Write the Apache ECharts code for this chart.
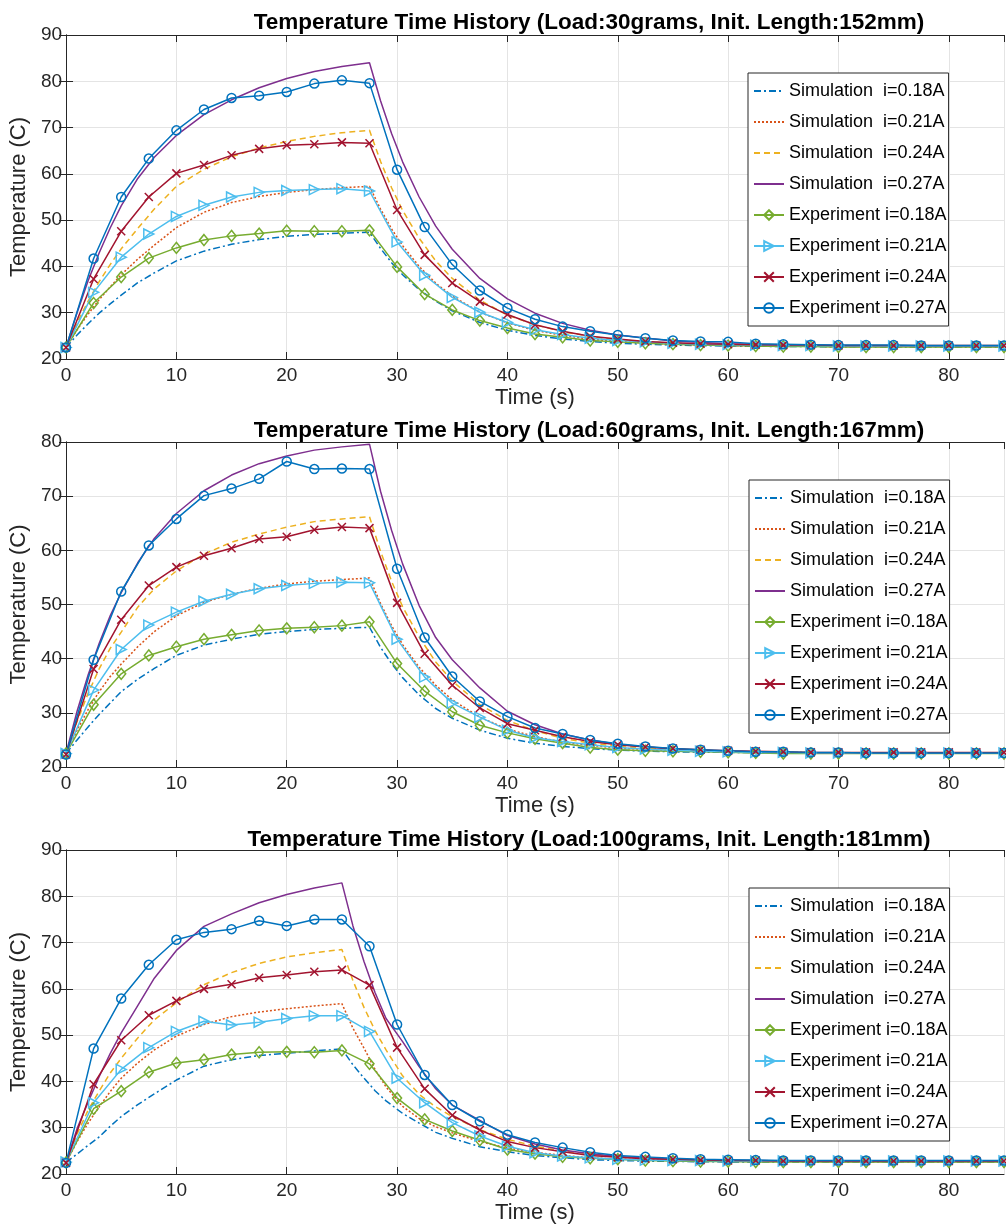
<!DOCTYPE html>
<html>
<head>
<meta charset="utf-8">
<title>Temperature Time History</title>
<script src="https://cdn.jsdelivr.net/npm/echarts@6/dist/echarts.min.js"></script>
<style>
  html, body { margin: 0; padding: 0; background: #fff; }
  #chart { width: 1006px; height: 1227px; }
</style>
</head>
<body>
<div id="chart"></div>
<script>
// experiment sampling times (every 2.5 s)
const expTime = [0, 2.5, 5, 7.5, 10, 12.5, 15, 17.5, 20, 22.5, 25, 27.5, 30, 32.5, 35, 37.5, 40, 42.5,
  45, 47.5, 50, 52.5, 55, 57.5, 60, 62.5, 65, 67.5, 70, 72.5, 75, 77.5, 80, 82.5, 85];
// simulation sampling times (heating ends at 27.5 s / 25 s)
const simTimeA = [0, 1, 2, 3, 4, 5, 6.5, 8, 10, 12.5, 15, 17.5, 20, 22.5, 25, 27.5, 28.5, 29.5, 30.5,
  32, 33.5, 35, 37.5, 40, 42.5, 45, 47.5, 50, 55, 60, 65, 70, 75, 80, 85];
const simTimeB = [0, 1, 2, 3, 4, 5, 6.5, 8, 10, 12.5, 15, 17.5, 20, 22.5, 25, 26, 27, 28, 29, 30.5,
  32, 33.5, 35, 37.5, 40, 42.5, 45, 47.5, 50, 55, 60, 65, 70, 75, 80, 85];

const seriesNames = [
  'Simulation  i=0.18A', 'Simulation  i=0.21A', 'Simulation  i=0.24A', 'Simulation  i=0.27A',
  'Experiment i=0.18A', 'Experiment i=0.21A', 'Experiment i=0.24A', 'Experiment i=0.27A'
];
const titles = [
  'Temperature Time History (Load:30grams, Init. Length:152mm)',
  'Temperature Time History (Load:60grams, Init. Length:167mm)',
  'Temperature Time History (Load:100grams, Init. Length:181mm)'
];

// ---- Load 30 g ----
const sim30_018 = [22.5, 25.2, 27.6, 29.9, 31.9, 33.8, 36.5, 38.6, 41.2, 43.3, 44.8, 45.8, 46.5, 46.9, 47.2, 47.4,
  43.9, 40.8, 38.2, 35.0, 32.5, 30.4, 27.9, 26.2, 25.1, 24.3, 23.8, 23.4, 23.0, 22.8, 22.7, 22.65, 22.6, 22.6, 22.6];
const sim30_021 = [22.5, 26.3, 29.7, 32.8, 35.6, 38.2, 41.6, 44.6, 48.4, 51.7, 53.8, 55.1, 56.0, 56.6, 57.0, 57.3,
  52.4, 48.1, 44.5, 40.0, 36.4, 33.6, 30.1, 27.8, 26.2, 25.1, 24.3, 23.8, 23.2, 22.9, 22.8, 22.7, 22.7, 22.7, 22.7];
const sim30_024 = [22.5, 27.8, 32.5, 36.7, 40.4, 43.8, 48.2, 52.4, 57.3, 61.0, 63.7, 65.6, 67.0, 68.1, 68.9, 69.4,
  62.7, 57.0, 52.1, 46.1, 41.2, 37.4, 32.7, 29.5, 27.4, 25.9, 24.9, 24.1, 23.4, 23.0, 22.8, 22.7, 22.7, 22.7, 22.7];
const sim30_027 = [22.5, 30.0, 36.9, 42.9, 48.3, 53.1, 59.0, 63.6, 68.3, 72.8, 76.0, 78.6, 80.6, 82.1, 83.2, 84.0,
  75.8, 68.7, 62.6, 55.0, 48.7, 43.7, 37.4, 33.0, 29.9, 27.7, 26.2, 25.2, 23.9, 23.3, 23.0, 22.85, 22.8, 22.75, 22.7];
const exp30_018 = [22.5, 32.1, 37.7, 41.8, 44.0, 45.7, 46.6, 47.1, 47.7, 47.6, 47.6, 47.8, 39.9, 34.0, 30.6, 28.3,
  26.7, 25.4, 24.7, 24.0, 23.7, 23.4, 23.2, 23.0, 22.9, 22.8, 22.7, 22.7, 22.6, 22.6, 22.6, 22.6, 22.6, 22.6, 22.6];
const exp30_021 = [22.5, 34.4, 42.0, 47.0, 50.8, 53.2, 55.0, 56.0, 56.4, 56.6, 56.8, 56.3, 45.3, 38.1, 33.3, 30.1,
  27.9, 26.3, 25.3, 24.5, 24.0, 23.7, 23.4, 23.2, 23.1, 23.0, 22.9, 22.9, 22.8, 22.8, 22.8, 22.8, 22.8, 22.8, 22.8];
const exp30_024 = [22.5, 37.3, 47.6, 55.0, 60.1, 61.9, 64.0, 65.4, 66.2, 66.4, 66.8, 66.6, 52.2, 42.5, 36.4, 32.4,
  29.6, 27.4, 26.0, 24.9, 24.3, 23.8, 23.5, 23.3, 23.2, 23.1, 23.0, 23.0, 22.9, 22.9, 22.9, 22.9, 22.9, 22.9, 22.9];
const exp30_027 = [22.5, 41.7, 55.0, 63.3, 69.4, 73.9, 76.4, 76.9, 77.7, 79.5, 80.2, 79.6, 60.9, 48.5, 40.4, 34.8,
  31.0, 28.6, 27.0, 26.0, 25.2, 24.5, 24.0, 23.8, 23.7, 23.3, 23.2, 23.1, 23.0, 23.0, 23.0, 22.9, 22.9, 22.9, 22.9];

// ---- Load 60 g ----
const sim60_018 = [22.5, 25.0, 27.4, 29.7, 31.8, 33.9, 36.2, 38.2, 40.6, 42.5, 43.6, 44.5, 45.0, 45.4, 45.6, 45.8,
  42.1, 39.1, 36.5, 33.3, 30.8, 29.0, 26.8, 25.3, 24.4, 23.8, 23.4, 23.1, 22.8, 22.7, 22.6, 22.6, 22.6, 22.6, 22.6];
const sim60_021 = [22.5, 26.8, 30.6, 33.9, 36.7, 39.0, 42.2, 45.0, 47.9, 50.4, 51.9, 53.0, 53.8, 54.3, 54.6, 54.9,
  50.2, 46.1, 42.6, 38.4, 35.1, 32.4, 29.2, 27.0, 25.6, 24.6, 24.0, 23.5, 23.0, 22.8, 22.7, 22.6, 22.6, 22.6, 22.6];
const sim60_024 = [22.5, 28.4, 33.6, 38.1, 41.9, 44.9, 49.5, 52.9, 56.2, 59.3, 61.5, 63.0, 64.3, 65.3, 65.8, 66.2,
  59.8, 54.3, 49.6, 44.0, 39.4, 35.9, 31.5, 28.6, 26.7, 25.3, 24.4, 23.8, 23.2, 22.9, 22.7, 22.6, 22.6, 22.6, 22.6];
const sim60_027 = [22.5, 30.3, 37.0, 42.8, 47.9, 52.2, 57.7, 62.2, 66.8, 71.0, 73.9, 76.0, 77.4, 78.5, 79.1, 79.6,
  70.9, 63.7, 57.5, 49.8, 43.9, 39.8, 34.6, 30.3, 27.8, 26.1, 25.0, 24.2, 23.3, 22.9, 22.7, 22.6, 22.6, 22.6, 22.6];
const exp60_018 = [22.5, 31.5, 37.2, 40.6, 42.2, 43.6, 44.4, 45.2, 45.6, 45.8, 46.1, 46.8, 39.1, 34.0, 30.2, 27.7,
  26.3, 25.2, 24.4, 23.6, 23.2, 23.0, 22.9, 22.8, 22.7, 22.6, 22.5, 22.5, 22.5, 22.5, 22.5, 22.5, 22.5, 22.5, 22.5];
const exp60_021 = [22.5, 34.2, 41.7, 46.2, 48.6, 50.6, 51.9, 52.9, 53.5, 53.9, 54.1, 54.0, 43.6, 36.6, 31.8, 29.2,
  26.8, 25.4, 24.7, 24.1, 23.6, 23.3, 23.1, 22.9, 22.8, 22.7, 22.7, 22.6, 22.6, 22.6, 22.6, 22.6, 22.6, 22.6, 22.6];
const exp60_024 = [22.3, 38.1, 47.2, 53.5, 56.9, 59.0, 60.4, 62.1, 62.5, 63.8, 64.3, 64.1, 50.3, 40.9, 35.1, 30.9,
  28.0, 26.8, 25.6, 24.7, 24.1, 23.7, 23.4, 23.2, 23.0, 22.9, 22.8, 22.7, 22.7, 22.7, 22.7, 22.7, 22.7, 22.7, 22.7];
const exp60_027 = [22.3, 39.8, 52.4, 60.9, 65.8, 70.1, 71.4, 73.2, 76.4, 75.0, 75.1, 75.0, 56.6, 43.9, 36.7, 32.1,
  29.3, 27.2, 26.1, 25.0, 24.3, 23.8, 23.4, 23.2, 23.0, 22.8, 22.8, 22.7, 22.7, 22.6, 22.6, 22.6, 22.6, 22.6, 22.6];

// ---- Load 100 g ----
const sim100_018 = [22.5, 24.3, 26.2, 28.0, 30.3, 32.4, 35.0, 37.3, 40.3, 43.3, 44.7, 45.6, 46.1, 46.6, 47.0,
  43.6, 40.7, 38.0, 35.8, 33.1, 31.0, 29.0, 27.7, 25.9, 24.8, 24.0, 23.5, 23.1, 22.9, 22.7, 22.6, 22.6, 22.6, 22.6, 22.6, 22.6];
const sim100_021 = [22.5, 27.0, 31.0, 34.5, 37.8, 40.7, 44.0, 46.8, 49.8, 52.3, 54.0, 55.0, 55.7, 56.3, 56.8,
  51.5, 47.2, 42.6, 38.8, 34.6, 32.0, 30.2, 28.9, 27.0, 25.6, 24.7, 24.0, 23.5, 23.2, 22.9, 22.8, 22.7, 22.7, 22.7, 22.7, 22.7];
const sim100_024 = [22.5, 28.6, 33.8, 37.9, 41.8, 45.0, 49.4, 53.3, 57.0, 60.9, 63.5, 65.5, 66.9, 67.8, 68.5,
  61.8, 56.0, 51.0, 46.8, 41.2, 37.2, 34.5, 32.4, 29.6, 27.5, 26.0, 25.0, 24.3, 23.8, 23.2, 22.9, 22.8, 22.7, 22.7, 22.7, 22.7];
const sim100_027 = [22.5, 29.8, 35.5, 41.0, 46.0, 50.5, 56.4, 62.3, 68.3, 73.5, 76.2, 78.6, 80.4, 81.8, 82.9,
  73.6, 65.9, 59.2, 53.6, 48.6, 43.2, 38.4, 34.9, 31.6, 28.3, 26.5, 25.2, 24.4, 23.8, 23.2, 22.9, 22.8, 22.7, 22.7, 22.7, 22.7];
const exp100_018 = [22.5, 34.1, 37.9, 42.0, 44.0, 44.7, 45.8, 46.3, 46.4, 46.3, 46.7, 43.8, 36.4, 31.8, 29.3, 27.3,
  25.3, 24.4, 23.7, 23.4, 23.2, 22.9, 22.8, 22.7, 22.7, 22.6, 22.6, 22.6, 22.6, 22.6, 22.6, 22.6, 22.6, 22.6, 22.6];
const exp100_021 = [22.6, 35.4, 42.6, 47.3, 50.8, 53.0, 52.2, 52.8, 53.6, 54.2, 54.2, 50.8, 40.7, 35.4, 31.1, 28.2,
  26.0, 24.6, 23.9, 23.5, 23.2, 23.0, 22.9, 22.9, 22.8, 22.8, 22.8, 22.8, 22.8, 22.8, 22.8, 22.8, 22.8, 22.8, 22.8];
const exp100_024 = [22.4, 39.4, 48.9, 54.3, 57.4, 60.0, 61.0, 62.4, 63.0, 63.7, 64.1, 60.8, 47.3, 38.4, 32.7, 29.5,
  27.0, 25.7, 24.8, 24.0, 23.6, 23.3, 23.2, 23.0, 22.9, 22.9, 22.8, 22.8, 22.8, 22.8, 22.8, 22.8, 22.8, 22.8, 22.8];
const exp100_027 = [22.4, 47.1, 57.9, 65.2, 70.6, 72.2, 72.9, 74.7, 73.6, 75.0, 75.0, 69.2, 52.3, 41.4, 34.9, 31.4,
  28.5, 26.8, 25.7, 24.7, 24.0, 23.7, 23.4, 23.2, 23.1, 23.0, 22.9, 22.9, 22.9, 22.9, 22.9, 22.9, 22.9, 22.9, 22.9];

// MATLAB default colour order
const colors = ['#0072BD', '#D95319', '#EDB120', '#7E2F8E', '#77AC30', '#4DBEEE', '#A2142F', '#0072BD'];
const simDash = [[7, 3, 2, 3], [2, 2], [6, 4], 'solid'];
const expSymbol = ['diamond', 'path://M0,0L10,5L0,10Z', 'path://M0,0L10,10M10,0L0,10', 'circle'];
const expSymbolSize = [[9, 11], 10, 8, 9];

const panels = [
  { sims: [sim30_018, sim30_021, sim30_024, sim30_027], simTime: simTimeA,
    exps: [exp30_018, exp30_021, exp30_024, exp30_027], ymax: 90,
    left: 60, top: 35, height: 324, titleTop: 6, legLeft: 748, legTop: 73 },
  { sims: [sim60_018, sim60_021, sim60_024, sim60_027], simTime: simTimeA,
    exps: [exp60_018, exp60_021, exp60_024, exp60_027], ymax: 80,
    left: 62, top: 442, height: 325, titleTop: 414, legLeft: 749, legTop: 480 },
  { sims: [sim100_018, sim100_021, sim100_024, sim100_027], simTime: simTimeB,
    exps: [exp100_018, exp100_021, exp100_024, exp100_027], ymax: 90,
    left: 62, top: 850, height: 324, titleTop: 823, legLeft: 749, legTop: 888 }
];

function zip (xs, ys) {
  return xs.map((x, k) => [x, ys[k]]);
}

const axisColor = '#262626';
const font = 'Liberation Sans, Arial, Helvetica, sans-serif';

let option = {
  animation: false,
  backgroundColor: '#fff',
  textStyle: { fontFamily: font },
  title: [], grid: [], xAxis: [], yAxis: [], legend: [], series: []
};

// legend entries: simulations show the line only
const legendData = seriesNames.map((n, k) => (k < 4 ? { name: n, itemStyle: { opacity: 0 } } : { name: n }));

panels.forEach((p, i) => {
  const tick = { show: true, inside: true, length: 7, lineStyle: { color: axisColor, width: 1 } };
  const line = { show: true, lineStyle: { color: axisColor, width: 1 } };

  option.title.push({
    text: titles[i], left: 584, top: p.titleTop, textAlign: 'center',
    textStyle: { fontSize: 22.5, fontWeight: 'bold', color: '#000', fontFamily: font }
  });
  option.grid.push({ left: p.left, top: p.top, height: p.height, right: 2, containLabel: false });

  // bottom + top x axes
  option.xAxis.push({
    gridIndex: i, type: 'value', min: 0, max: 85, interval: 10,
    name: 'Time (s)', nameLocation: 'middle', nameGap: 28,
    nameTextStyle: { fontSize: 22, color: axisColor, fontFamily: font },
    axisLine: line, axisTick: tick,
    axisLabel: { fontSize: 19, color: axisColor, margin: 7, showMaxLabel: false, fontFamily: font },
    splitLine: { show: true, lineStyle: { color: '#e4e4e4', width: 1 } }
  });
  option.xAxis.push({
    gridIndex: i, type: 'value', position: 'top', min: 0, max: 85, interval: 10,
    axisLine: line, axisTick: tick, axisLabel: { show: false }, splitLine: { show: false }
  });
  // left + right y axes
  option.yAxis.push({
    gridIndex: i, type: 'value', min: 20, max: p.ymax, interval: 10,
    name: 'Temperature (C)', nameLocation: 'middle', nameGap: 23,
    nameTextStyle: { fontSize: 22, color: axisColor, fontFamily: font },
    axisLine: line, axisTick: tick,
    axisLabel: { fontSize: 19, color: axisColor, margin: 4, fontFamily: font },
    splitLine: { show: true, lineStyle: { color: '#e4e4e4', width: 1 } }
  });
  option.yAxis.push({
    gridIndex: i, type: 'value', position: 'right', min: 20, max: p.ymax, interval: 10,
    axisLine: line, axisTick: tick, axisLabel: { show: false }, splitLine: { show: false }
  });

  option.legend.push({
    orient: 'vertical', left: p.legLeft, top: p.legTop, data: legendData,
    itemWidth: 30, itemHeight: 12, itemGap: 13, padding: [9, 2, 9, 5],
    borderColor: axisColor, borderWidth: 1, borderRadius: 0, backgroundColor: '#fff',
    selectedMode: false,
    textStyle: { fontSize: 18, color: '#000', fontFamily: font }
  });

  // simulations
  p.sims.forEach((vals, k) => {
    option.series.push({
      type: 'line', name: seriesNames[k], xAxisIndex: 2 * i, yAxisIndex: 2 * i,
      data: zip(p.simTime, vals), symbol: 'none',
      lineStyle: { color: colors[k], width: 1.5, type: simDash[k] },
      itemStyle: { color: colors[k] },
      emphasis: { disabled: true }
    });
  });
  // experiments
  p.exps.forEach((vals, k) => {
    const c = colors[k + 4];
    option.series.push({
      type: 'line', name: seriesNames[k + 4], xAxisIndex: 2 * i, yAxisIndex: 2 * i,
      data: zip(expTime, vals), symbol: expSymbol[k], symbolSize: expSymbolSize[k],
      showAllSymbol: true,
      lineStyle: { color: c, width: 1.5 },
      itemStyle: { color: 'rgba(255,255,255,0)', borderColor: c, borderWidth: 1.5 },
      emphasis: { disabled: true }
    });
  });
});

let chart = echarts.init(document.getElementById('chart'), null, { renderer: 'canvas' });
chart.setOption(option);
</script>
</body>
</html>
